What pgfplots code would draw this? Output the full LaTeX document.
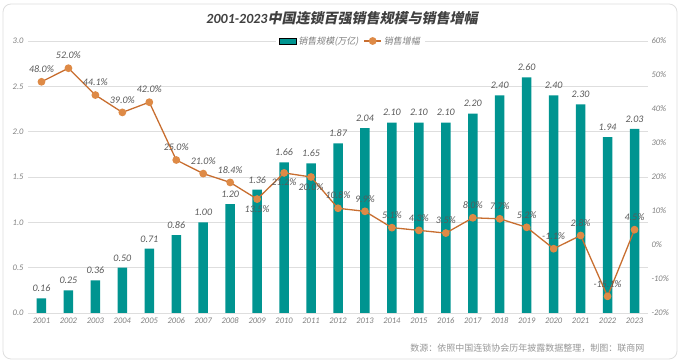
\documentclass[border=0pt]{standalone}
\usepackage{pgfplots}
\pgfplotsset{compat=1.18}
\usepackage{pgfplotstable}
\usepackage{fontspec}
\setmainfont{Carlito}
\newfontfamily\cjk{Noto Sans CJK SC}[FakeSlant=0.2]
\newfontfamily\cjkup{Noto Sans CJK SC}
\definecolor{teal1}{RGB}{0,148,144}
\definecolor{org}{RGB}{200,110,48}
\definecolor{orgm}{RGB}{222,138,70}
\definecolor{lab}{RGB}{89,89,89}
\definecolor{tickc}{RGB}{127,127,127}
\definecolor{gridc}{RGB}{222,222,222}
\definecolor{titlec}{RGB}{64,64,64}
\definecolor{footc}{RGB}{150,150,150}

\pgfplotstableread{
x year sales growth
0 2001 0.16 48.0
1 2002 0.25 52.0
2 2003 0.36 44.1
3 2004 0.50 39.0
4 2005 0.71 42.0
5 2006 0.86 25.0
6 2007 1.00 21.0
7 2008 1.20 18.4
8 2009 1.36 13.5
9 2010 1.66 21.2
10 2011 1.65 20.0
11 2012 1.87 10.8
12 2013 2.04 9.9
13 2014 2.10 5.1
14 2015 2.10 4.3
15 2016 2.10 3.5
16 2017 2.20 8.0
17 2018 2.40 7.7
18 2019 2.60 5.2
19 2020 2.40 -1.1
20 2021 2.30 2.8
21 2022 1.94 -15.1
22 2023 2.03 4.5
}\data

\begin{document}
\begin{tikzpicture}
\useasboundingbox (0,0) rectangle (680pt,363pt);
\draw[gridc, line width=0.8pt, rounded corners=8pt] (3pt,4pt) rectangle (677pt,359pt);

\begin{axis}[
  at={(28pt,50pt)}, anchor=south west,
  scale only axis, width=620pt, height=272pt,
  xmin=-0.5, xmax=22.5, ymin=0, ymax=3,
  ytick={0,0.5,...,3},
  xtick=data,
  xticklabels from table={\data}{year},
  axis x line*=bottom, axis y line*=left,
  axis line style={draw=none},
  major tick style={draw=none},
  ymajorgrids, grid style={gridc, line width=0.8pt},
  /pgf/number format/assume math mode=true,
  yticklabel style={xshift=-1pt, /pgf/number format/.cd, fixed, fixed zerofill, precision=1},
  every tick label/.append style={font=\itshape\fontsize{8.5}{10}\selectfont, text=tickc},
  xticklabel style={yshift=-1pt},
  clip=false,
]
\addplot[ybar, bar width=9.5pt, fill=teal1, draw=none,
  nodes near coords,
  nodes near coords style={font=\itshape\fontsize{10}{12}\selectfont, text=lab, yshift=3pt,
    /pgf/number format/.cd, fixed, fixed zerofill, precision=2, assume math mode=true},
] table[x=x, y=sales] {\data};
\end{axis}

\begin{axis}[
  at={(28pt,50pt)}, anchor=south west,
  scale only axis, width=620pt, height=272pt,
  xmin=-0.5, xmax=22.5, ymin=-20, ymax=60,
  ytick={-20,-10,...,60},
  axis y line*=right, axis x line=none,
  axis line style={draw=none},
  major tick style={draw=none},
  /pgf/number format/assume math mode=true,
  yticklabel={\pgfmathprintnumber{\tick}\%},
  every tick label/.append style={font=\itshape\fontsize{8.5}{10}\selectfont, text=tickc},
  clip=false,
  legend style={at={(0.52,1)}, anchor=center, fill=white, draw=none,
    legend columns=2, font=\cjk\fontsize{9}{10}\selectfont, text=tickc,
    /tikz/every even column/.append style={column sep=3pt}},
  legend cell align=left,
  glab/.style={forget plot, draw=none, mark=none,
    nodes near coords={\pgfmathprintnumber[fixed, fixed zerofill, precision=1, assume math mode=true]{\pgfplotspointmeta}\%},
    nodes near coords style={font=\itshape\fontsize{10}{12}\selectfont, text=lab, inner sep=4pt}},
]
\addlegendimage{area legend, fill=teal1, draw=none}
\addlegendentry{销售规模(万亿)}
\addplot[org, line width=1.3pt, mark=*, mark size=3.2pt,
  mark options={fill=orgm, draw=orgm},
] table[x=x, y=growth] {\data};
\addlegendentry{销售增幅}
\addplot[glab, nodes near coords style={anchor=south, yshift=5pt}] coordinates {
(0,48.0) (1,52.0) (2,44.1) (3,39.0) (4,42.0) (5,25.0) (6,21.0) (7,18.4)
(11,10.8) (12,9.9) (13,5.1) (14,4.3) (15,3.5) (16,8.0) (17,7.7) (18,5.2)
(19,-1.1) (20,2.8) (21,-15.1) (22,4.5)};
\addplot[glab, nodes near coords style={anchor=north, yshift=-2pt}] coordinates {
(8,13.5) (9,21.2) (10,20.0)};
\end{axis}

\node[text=titlec, font=\fontsize{14}{16}\selectfont] at (342pt,345pt)
  {\bfseries\itshape 2001-2023\cjk 中国连锁百强销售规模与销售增幅};
\node[anchor=east, text=footc, font=\cjkup\fontsize{9}{11}\selectfont] at (648pt,15pt)
  {数源：依照中国连锁协会历年披露数据整理，制图：联商网};
\end{tikzpicture}
\end{document}
